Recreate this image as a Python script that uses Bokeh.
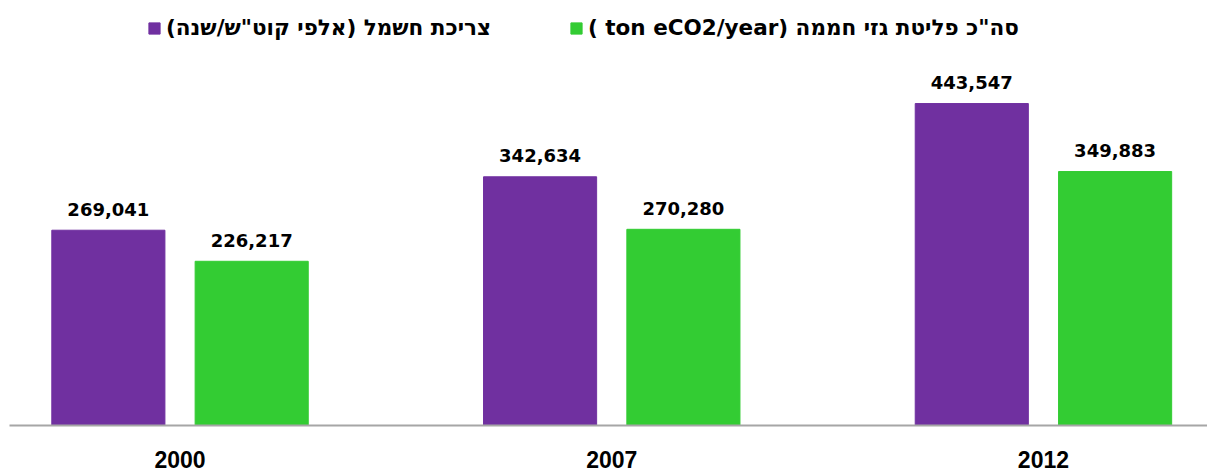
from bokeh.plotting import figure
from bokeh.models import Range1d, FixedTicker, Legend, LegendItem, ColumnDataSource
from bokeh.core.properties import value
from bokeh.embed import file_html
from bokeh.resources import INLINE

years = ["2000", "2007", "2012"]
electricity = [269041, 342634, 443547]
emissions = [226217, 270280, 349883]
series_names = [
    "\u202bצריכת חשמל (אלפי קוט\"ש/שנה)\u202c",
    "\u202bסה\"כ פליטת גזי חממה (ton eCO2/year )\u202c",
]
colors = ["#7030A0", "#33CC33"]

xs = list(range(len(years)))
offset = 0.166
bar_w = 0.262

src1 = ColumnDataSource(dict(x=[i - offset for i in xs], top=electricity,
                             lab=[f"{v:,}" for v in electricity]))
src2 = ColumnDataSource(dict(x=[i + offset for i in xs], top=emissions,
                             lab=[f"{v:,}" for v in emissions]))

p = figure(width=1207, height=471, output_backend="svg", toolbar_location=None,
           x_range=Range1d(-0.395, 2.38), y_range=Range1d(0, 585500),
           y_axis_location=None, min_border_left=9, min_border_right=0,
           min_border_top=0, min_border_bottom=46)
p.outline_line_color = None
p.xgrid.visible = False
p.ygrid.visible = False
p.background_fill_color = "white"
p.border_fill_color = "white"

r1 = p.vbar(x="x", top="top", width=bar_w, source=src1, fill_color=colors[0],
            line_color=colors[0])
r2 = p.vbar(x="x", top="top", width=bar_w, source=src2, fill_color=colors[1],
            line_color=colors[1])

for s in (src1, src2):
    p.text(x="x", y="top", text="lab", source=s, text_align="center",
           text_baseline="alphabetic", y_offset=-21,
           text_font=value("DejaVu Sans"), text_font_style="bold",
           text_font_size="18px", text_color="black")

ax = p.xaxis[0]
ax.ticker = FixedTicker(ticks=xs)
ax.major_label_overrides = {i: y for i, y in zip(xs, years)}
ax.major_tick_line_color = None
ax.minor_tick_line_color = None
ax.axis_line_color = "#a6a6a6"
ax.axis_line_width = 2
ax.major_label_text_font = "Liberation Sans"
ax.major_label_text_font_style = "bold"
ax.major_label_text_font_size = "23px"
ax.major_label_text_color = "black"
ax.major_label_standoff = 19

for r, name, loc in ((r1, series_names[0], (138, 385)), (r2, series_names[1], (560, 385))):
    lg = Legend(items=[LegendItem(label=name, renderers=[r])], location=loc,
                orientation="horizontal", glyph_width=14, glyph_height=14,
                label_standoff=5, padding=0, margin=0, border_line_color=None,
                background_fill_alpha=0, label_text_font="DejaVu Sans",
                label_text_font_style="bold", label_text_font_size="21.5px",
                label_text_color="black")
    p.add_layout(lg, "center")

open("out.html", "w").write(file_html(p, INLINE))
